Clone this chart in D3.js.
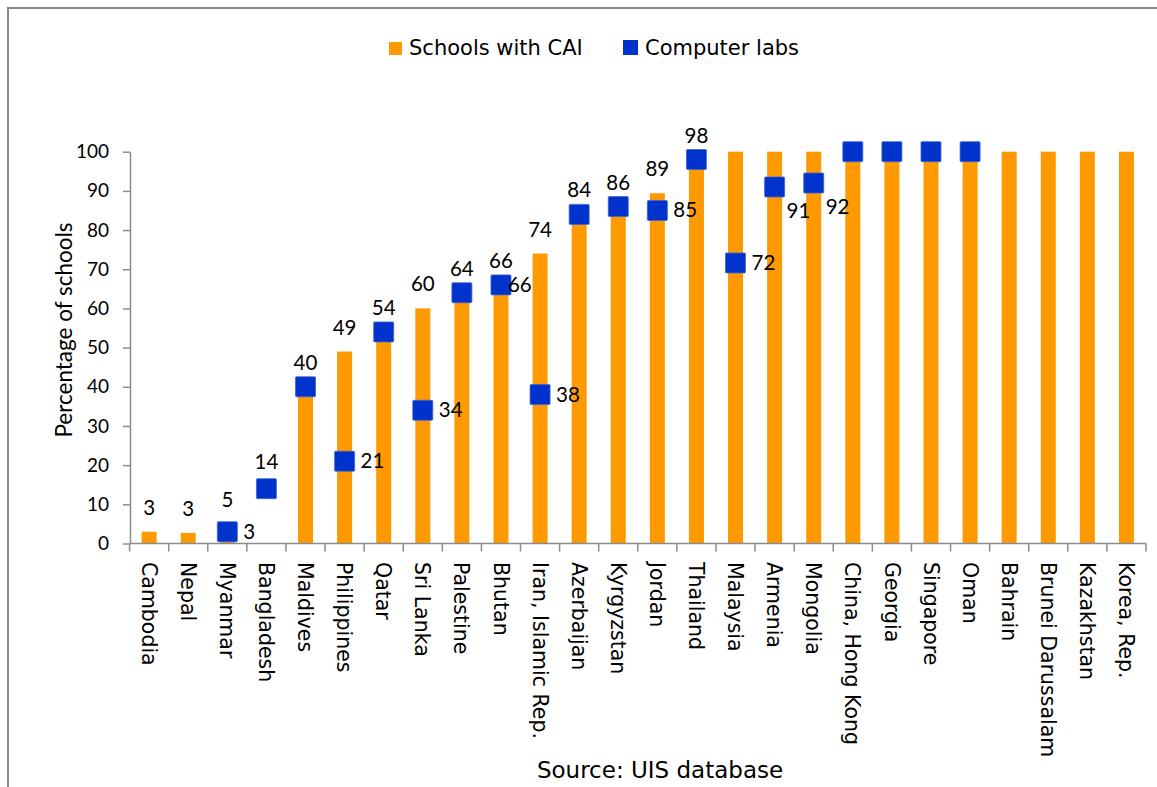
<!DOCTYPE html>
<html>
<head>
<meta charset="utf-8">
<script src="https://cdn.jsdelivr.net/npm/d3@7"></script>
<style>
  html, body { margin: 0; padding: 0; background: #fff; }
  svg { display: block; }
</style>
</head>
<body>
<svg id="chart" width="1157" height="787"></svg>
<script>
// Countries, in display order
const countries = [
  "Cambodia", "Nepal", "Myanmar", "Bangladesh", "Maldives", "Philippines",
  "Qatar", "Sri Lanka", "Palestine", "Bhutan", "Iran, Islamic Rep.",
  "Azerbaijan", "Kyrgyzstan", "Jordan", "Thailand", "Malaysia", "Armenia",
  "Mongolia", "China, Hong Kong", "Georgia", "Singapore", "Oman", "Bahrain",
  "Brunei Darussalam", "Kazakhstan", "Korea, Rep."
];

// Percentage of schools using computer-assisted instruction
const caiValues = [
  3, 2.7, 5, null, 40, 49, 54, 60, 64, 66, 74,
  84, 86, 89.4, 98, 100, 100, 100, 100, 100, 100, 100, 100,
  100, 100, 100
];

// Percentage of schools with computer labs
const labValues = [
  null, null, 3, 14, 40, 21, 54, 34, 64, 66, 38,
  84, 86, 85, 98, 71.6, 91, 92, 100, 100, 100, 100, null,
  null, null, null
];

// Which bars carry a value label above them
const caiLabelled = [
  true, true, true, false, true, true, true, true, true, true, true,
  true, true, true, true, false, false, false, false, false, false, false, false,
  false, false, false
];

// Where each computer-lab value label sits relative to its marker
const labLabelPos = [
  null, null, "right", "above", null, "right", null, "right", null, "tight", "right",
  null, null, "right", null, "right", "below", "below", null, null, null, null, null,
  null, null, null
];

const yTicks = [0, 10, 20, 30, 40, 50, 60, 70, 80, 90, 100];

const seriesNames = ["Schools with CAI", "Computer labs"];
const colors = { cai: "#FF9900", lab: "#0033CC" };

const svg = d3.select("#chart");
const sansFont = "'DejaVu Sans', Verdana, sans-serif";
const numFont = "Lato, 'Open Sans', sans-serif";

// Outer frame
svg.append("rect")
  .attr("x", 8).attr("y", 8)
  .attr("width", 1300).attr("height", 1000)
  .attr("fill", "none")
  .attr("stroke", "#8a8a8a")
  .attr("stroke-width", 2);

const x = d3.scaleBand()
  .domain(countries)
  .range([129.6, 1146])
  .paddingInner(0)
  .paddingOuter(0);

const y = d3.scaleLinear()
  .domain([0, 100])
  .range([543.5, 151.7]);

const barW = 15;
const sq = 20;
const axisColor = "#8c8c8c";
const fmt = d3.format(".0f");

// Y axis
const yAxis = d3.axisLeft(y)
  .tickValues(yTicks)
  .tickSize(7)
  .tickPadding(14)
  .tickSizeOuter(0);

const gy = svg.append("g")
  .attr("transform", "translate(130,0)")
  .call(yAxis);
gy.select(".domain").attr("stroke", axisColor).attr("stroke-width", 1.5);
gy.selectAll(".tick line").attr("stroke", axisColor).attr("stroke-width", 1.5);
gy.selectAll(".tick text")
  .attr("fill", "#000")
  .style("font-family", numFont)
  .style("font-size", "19px");

// Y axis title
svg.append("text")
  .attr("transform", "translate(64,330) rotate(-90)")
  .attr("text-anchor", "middle")
  .attr("dy", "0.35em")
  .style("font-family", numFont)
  .style("font-size", "22.5px")
  .attr("fill", "#000")
  .text("Percentage of schools");

// Bars
svg.append("g")
  .selectAll("rect")
  .data(countries.map((c, i) => ({ c, v: caiValues[i] })).filter(d => d.v != null))
  .join("rect")
  .attr("x", d => x(d.c) + x.bandwidth() / 2 - barW / 2)
  .attr("width", barW)
  .attr("y", d => y(d.v))
  .attr("height", d => y(0) - y(d.v))
  .attr("fill", colors.cai);

// X axis line and category ticks
const gx = svg.append("g");
gx.append("line")
  .attr("x1", 129.6).attr("x2", 1146)
  .attr("y1", y(0)).attr("y2", y(0))
  .attr("stroke", axisColor).attr("stroke-width", 1.5);
gx.selectAll("line.tk")
  .data(d3.range(countries.length + 1))
  .join("line")
  .attr("class", "tk")
  .attr("x1", i => i < countries.length ? x(countries[i]) : x.range()[1])
  .attr("x2", i => i < countries.length ? x(countries[i]) : x.range()[1])
  .attr("y1", y(0)).attr("y2", y(0) + 8)
  .attr("stroke", axisColor).attr("stroke-width", 1.5);

// Category labels, rotated to read downward
gx.selectAll("text")
  .data(countries)
  .join("text")
  .attr("transform", d => `translate(${x(d) + x.bandwidth() / 2},562) rotate(90)`)
  .attr("dy", "0.36em")
  .attr("text-anchor", "start")
  .style("font-family", sansFont)
  .style("font-size", "20.5px")
  .attr("fill", "#000")
  .text(d => d);

// Bar value labels
svg.append("g")
  .selectAll("text")
  .data(countries.map((c, i) => ({ c, v: caiValues[i], show: caiLabelled[i] })).filter(d => d.v != null && d.show))
  .join("text")
  .attr("x", d => x(d.c) + x.bandwidth() / 2)
  .attr("y", d => y(d.v) - 17)
  .attr("text-anchor", "middle")
  .style("font-family", numFont)
  .style("font-size", "20.5px")
  .attr("fill", "#000")
  .text(d => fmt(d.v));

// Computer lab markers
const labData = countries.map((c, i) => ({ c, v: labValues[i], pos: labLabelPos[i] })).filter(d => d.v != null);

svg.append("g")
  .selectAll("rect")
  .data(labData)
  .join("rect")
  .attr("x", d => x(d.c) + x.bandwidth() / 2 - sq / 2)
  .attr("y", d => y(d.v) - sq / 2)
  .attr("width", sq)
  .attr("height", sq)
  .attr("rx", 1)
  .attr("fill", colors.lab)
  .attr("stroke", "#3f63d8")
  .attr("stroke-width", 0.8);

// Computer lab value labels
const labOffset = {
  right: { dx: 16, dy: 7, anchor: "start" },
  tight: { dx: 7, dy: 7, anchor: "start" },
  below: { dx: 12, dy: 31, anchor: "start" },
  above: { dx: 0, dy: -20, anchor: "middle" }
};
svg.append("g")
  .selectAll("text")
  .data(labData.filter(d => d.pos))
  .join("text")
  .attr("x", d => x(d.c) + x.bandwidth() / 2 + labOffset[d.pos].dx)
  .attr("y", d => y(d.v) + labOffset[d.pos].dy)
  .attr("text-anchor", d => labOffset[d.pos].anchor)
  .style("font-family", numFont)
  .style("font-size", "20.5px")
  .attr("fill", "#000")
  .text(d => fmt(d.v));

// Legend
const legend = svg.append("g");
const legendItems = [
  { name: seriesNames[0], color: colors.cai, rx: 389, tx: 409, w: 13 },
  { name: seriesNames[1], color: colors.lab, rx: 623, tx: 645, w: 15 }
];
legendItems.forEach(it => {
  legend.append("rect")
    .attr("x", it.rx).attr("y", 55 - it.w)
    .attr("width", it.w).attr("height", it.w)
    .attr("fill", it.color);
  legend.append("text")
    .attr("x", it.tx).attr("y", 55)
    .style("font-family", sansFont)
    .style("font-size", "21px")
    .attr("fill", "#000")
    .text(it.name);
});

// Source note
svg.append("text")
  .attr("x", 660).attr("y", 778)
  .attr("text-anchor", "middle")
  .style("font-family", sansFont)
  .style("font-size", "23px")
  .attr("fill", "#000")
  .text("Source: UIS database");
</script>
</body>
</html>
